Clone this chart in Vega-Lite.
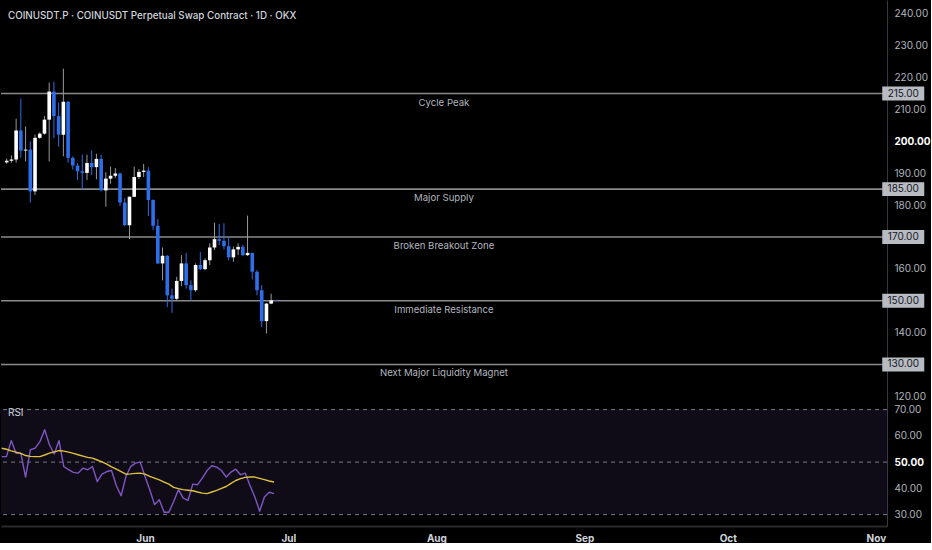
{
  "$schema": "https://vega.github.io/schema/vega-lite/v6.json",
  "background": "#000000",
  "padding": 0,
  "spacing": 0,
  "bounds": "flush",
  "datasets": {
    "bars": [
      {"d": "2025-05-02", "o": 193.4, "h": 194.6, "l": 193.0, "c": 193.9, "rsi": 52.1, "ma": 55.3},
      {"d": "2025-05-03", "o": 193.9, "h": 195.6, "l": 193.3, "c": 194.3, "rsi": 52.1, "ma": 54.9},
      {"d": "2025-05-04", "o": 194.3, "h": 207.1, "l": 193.3, "c": 203.4, "rsi": 58.2, "ma": 54.3},
      {"d": "2025-05-05", "o": 203.4, "h": 213.4, "l": 194.9, "c": 197.1, "rsi": 53.4, "ma": 53.8},
      {"d": "2025-05-06", "o": 197.1, "h": 204.7, "l": 193.7, "c": 197.4, "rsi": 53.4, "ma": 53.3},
      {"d": "2025-05-07", "o": 197.4, "h": 200.0, "l": 180.8, "c": 184.3, "rsi": 44.3, "ma": 52.5},
      {"d": "2025-05-08", "o": 184.3, "h": 202.1, "l": 183.2, "c": 201.1, "rsi": 54.7, "ma": 52.2},
      {"d": "2025-05-09", "o": 201.1, "h": 202.8, "l": 200.8, "c": 202.4, "rsi": 55.3, "ma": 52.1},
      {"d": "2025-05-10", "o": 202.4, "h": 207.9, "l": 202.1, "c": 206.8, "rsi": 57.8, "ma": 52.1},
      {"d": "2025-05-11", "o": 206.8, "h": 218.4, "l": 193.7, "c": 215.6, "rsi": 62.3, "ma": 52.7},
      {"d": "2025-05-12", "o": 215.6, "h": 218.7, "l": 201.0, "c": 207.9, "rsi": 56.6, "ma": 53.4},
      {"d": "2025-05-13", "o": 207.9, "h": 212.2, "l": 198.3, "c": 202.1, "rsi": 53.1, "ma": 53.9},
      {"d": "2025-05-14", "o": 202.1, "h": 222.8, "l": 195.3, "c": 212.4, "rsi": 58.2, "ma": 54.4},
      {"d": "2025-05-15", "o": 212.4, "h": 212.6, "l": 193.3, "c": 194.8, "rsi": 48.3, "ma": 54.2},
      {"d": "2025-05-16", "o": 194.8, "h": 195.3, "l": 191.1, "c": 192.4, "rsi": 47.1, "ma": 53.8},
      {"d": "2025-05-17", "o": 192.4, "h": 193.2, "l": 187.9, "c": 190.6, "rsi": 46.1, "ma": 53.3},
      {"d": "2025-05-18", "o": 190.6, "h": 195.8, "l": 184.8, "c": 190.1, "rsi": 45.8, "ma": 52.8},
      {"d": "2025-05-19", "o": 190.1, "h": 195.8, "l": 187.9, "c": 193.2, "rsi": 47.7, "ma": 52.3},
      {"d": "2025-05-20", "o": 193.2, "h": 197.2, "l": 189.5, "c": 191.9, "rsi": 47.1, "ma": 51.8},
      {"d": "2025-05-21", "o": 191.9, "h": 196.1, "l": 188.1, "c": 194.5, "rsi": 48.3, "ma": 51.5},
      {"d": "2025-05-22", "o": 194.5, "h": 195.8, "l": 184.3, "c": 184.6, "rsi": 42.6, "ma": 50.8},
      {"d": "2025-05-23", "o": 184.6, "h": 190.3, "l": 179.5, "c": 188.3, "rsi": 45.4, "ma": 50.1},
      {"d": "2025-05-24", "o": 188.3, "h": 192.1, "l": 186.7, "c": 189.2, "rsi": 46.4, "ma": 49.2},
      {"d": "2025-05-25", "o": 189.2, "h": 191.6, "l": 188.5, "c": 189.9, "rsi": 46.8, "ma": 48.2},
      {"d": "2025-05-26", "o": 189.9, "h": 190.2, "l": 179.7, "c": 180.8, "rsi": 41.0, "ma": 47.3},
      {"d": "2025-05-27", "o": 180.8, "h": 182.2, "l": 173.4, "c": 173.7, "rsi": 37.2, "ma": 46.4},
      {"d": "2025-05-28", "o": 173.7, "h": 182.7, "l": 169.3, "c": 182.6, "rsi": 44.5, "ma": 45.4},
      {"d": "2025-05-29", "o": 182.6, "h": 192.1, "l": 182.5, "c": 188.8, "rsi": 48.3, "ma": 45.5},
      {"d": "2025-05-30", "o": 188.8, "h": 191.3, "l": 188.2, "c": 190.4, "rsi": 49.6, "ma": 45.7},
      {"d": "2025-05-31", "o": 190.4, "h": 192.9, "l": 188.8, "c": 190.8, "rsi": 50.0, "ma": 45.8},
      {"d": "2025-06-01", "o": 190.8, "h": 191.9, "l": 176.6, "c": 181.6, "rsi": 44.5, "ma": 45.4},
      {"d": "2025-06-02", "o": 181.6, "h": 181.8, "l": 172.2, "c": 173.5, "rsi": 39.5, "ma": 44.6},
      {"d": "2025-06-03", "o": 173.5, "h": 175.6, "l": 161.5, "c": 161.7, "rsi": 33.8, "ma": 43.9},
      {"d": "2025-06-04", "o": 161.7, "h": 166.7, "l": 156.4, "c": 164.1, "rsi": 35.7, "ma": 43.2},
      {"d": "2025-06-05", "o": 164.1, "h": 164.3, "l": 148.0, "c": 151.7, "rsi": 30.9, "ma": 42.4},
      {"d": "2025-06-06", "o": 151.7, "h": 153.8, "l": 146.2, "c": 150.6, "rsi": 30.9, "ma": 41.6},
      {"d": "2025-06-07", "o": 150.6, "h": 157.5, "l": 150.1, "c": 156.2, "rsi": 35.0, "ma": 40.4},
      {"d": "2025-06-08", "o": 156.2, "h": 164.3, "l": 154.6, "c": 161.7, "rsi": 39.5, "ma": 39.9},
      {"d": "2025-06-09", "o": 161.7, "h": 165.0, "l": 153.8, "c": 154.9, "rsi": 36.3, "ma": 39.5},
      {"d": "2025-06-10", "o": 154.9, "h": 156.4, "l": 150.1, "c": 153.3, "rsi": 35.4, "ma": 39.3},
      {"d": "2025-06-11", "o": 153.3, "h": 161.7, "l": 152.8, "c": 161.2, "rsi": 41.6, "ma": 39.1},
      {"d": "2025-06-12", "o": 161.2, "h": 165.3, "l": 159.6, "c": 159.9, "rsi": 41.4, "ma": 38.6},
      {"d": "2025-06-13", "o": 159.9, "h": 163.3, "l": 159.6, "c": 162.7, "rsi": 43.9, "ma": 38.2},
      {"d": "2025-06-14", "o": 162.7, "h": 168.0, "l": 161.2, "c": 166.7, "rsi": 46.8, "ma": 38.0},
      {"d": "2025-06-15", "o": 166.7, "h": 174.5, "l": 165.9, "c": 169.3, "rsi": 48.6, "ma": 38.6},
      {"d": "2025-06-16", "o": 169.3, "h": 174.1, "l": 167.5, "c": 168.8, "rsi": 48.1, "ma": 39.2},
      {"d": "2025-06-17", "o": 168.8, "h": 174.3, "l": 166.1, "c": 167.1, "rsi": 46.8, "ma": 40.0},
      {"d": "2025-06-18", "o": 167.1, "h": 169.9, "l": 162.7, "c": 163.6, "rsi": 44.3, "ma": 40.7},
      {"d": "2025-06-19", "o": 163.6, "h": 167.0, "l": 162.2, "c": 166.1, "rsi": 46.2, "ma": 41.9},
      {"d": "2025-06-20", "o": 166.1, "h": 168.0, "l": 164.3, "c": 166.9, "rsi": 47.3, "ma": 43.0},
      {"d": "2025-06-21", "o": 166.9, "h": 167.5, "l": 164.0, "c": 164.3, "rsi": 45.2, "ma": 43.7},
      {"d": "2025-06-22", "o": 164.3, "h": 176.7, "l": 164.0, "c": 165.0, "rsi": 45.8, "ma": 44.2},
      {"d": "2025-06-23", "o": 165.0, "h": 165.0, "l": 156.7, "c": 159.1, "rsi": 41.0, "ma": 44.3},
      {"d": "2025-06-24", "o": 159.1, "h": 159.6, "l": 151.7, "c": 153.3, "rsi": 36.7, "ma": 44.3},
      {"d": "2025-06-25", "o": 153.3, "h": 154.9, "l": 141.7, "c": 143.6, "rsi": 31.3, "ma": 43.8},
      {"d": "2025-06-26", "o": 143.6, "h": 149.3, "l": 139.7, "c": 149.1, "rsi": 36.7, "ma": 43.3},
      {"d": "2025-06-27", "o": 149.1, "h": 152.2, "l": 148.9, "c": 150.1, "rsi": 38.5, "ma": 42.8},
      {"d": "2025-06-28", "o": 150.1, "h": 150.1, "l": 149.9, "c": 149.9, "rsi": 38.0, "ma": 42.4}
    ],
    "levels": [
      {"level": 215, "label": "Cycle Peak"},
      {"level": 185, "label": "Major Supply"},
      {"level": 170, "label": "Broken Breakout Zone"},
      {"level": 150, "label": "Immediate Resistance"},
      {"level": 130, "label": "Next Major Liquidity Magnet"}
    ],
    "bands": [
      {"band": 70},
      {"band": 50},
      {"band": 30}
    ]
  },
  "vconcat": [
    {
      "width": 886,
      "height": 400,
      "title": {
        "text": "COINUSDT.P · COINUSDT Perpetual Swap Contract · 1D · OKX",
        "anchor": "start",
        "frame": "group",
        "orient": "top",
        "offset": -25.5,
        "baseline": "middle",
        "dx": 7,
        "fontSize": 9.8,
        "fontWeight": 500,
        "color": "#d1d4dc"
      },
      "layer": [
        {
          "data": {"name": "levels"},
          "mark": {"type": "rule", "color": "#8a8a8a", "strokeWidth": 1.6},
          "encoding": {
            "y": {
              "field": "level",
              "type": "quantitative",
              "scale": {"domain": [118.86, 244.33], "nice": false, "zero": false},
              "axis": {
                "orient": "right",
                "title": null,
                "values": [240, 230, 220, 210, 200, 190, 180, 160, 140, 120],
                "format": ".2f",
                "grid": false,
                "ticks": false,
                "labelOverlap": false,
                "labelPadding": 7,
                "labelFontSize": 10,
                "labelColor": {"condition": {"test": "datum.value == 200", "value": "#ffffff"}, "value": "#b2b5be"},
                "labelFontWeight": {"condition": {"test": "datum.value == 200", "value": "bold"}, "value": "normal"},
                "domainColor": "#363a45",
                "domainWidth": 1
              }
            }
          }
        },
        {
          "data": {"name": "bars"},
          "mark": {"type": "rule", "strokeWidth": 1},
          "encoding": {
            "x": {
              "field": "d",
              "type": "temporal",
              "scale": {
                "type": "utc",
                "domain": [
                  {"year": 2025, "month": 5, "date": 1, "hours": 20, "minutes": 30, "utc": true},
                  {"year": 2025, "month": 11, "date": 3, "hours": 8, "utc": true}
                ]
              },
              "axis": null
            },
            "y": {"field": "l", "type": "quantitative"},
            "y2": {"field": "h"},
            "color": {
              "condition": {"test": "datum.c >= datum.o", "value": "#9a9a9a"},
              "value": "#2d6fe9"
            }
          }
        },
        {
          "data": {"name": "bars"},
          "mark": {"type": "bar", "width": 3.6},
          "encoding": {
            "x": {"field": "d", "type": "temporal"},
            "y": {"field": "o", "type": "quantitative"},
            "y2": {"field": "c"},
            "color": {
              "condition": {"test": "datum.c >= datum.o", "value": "#ffffff"},
              "value": "#2d6fe9"
            }
          }
        },
        {
          "data": {"name": "levels"},
          "mark": {"type": "text", "color": "#b2b5be", "fontSize": 9.6, "dy": 9, "align": "center", "baseline": "middle"},
          "encoding": {
            "x": {"datum": {"year": 2025, "month": 8, "date": 2, "hours": 14, "utc": true}, "type": "temporal"},
            "y": {"field": "level", "type": "quantitative"},
            "text": {"field": "label"}
          }
        },
        {
          "data": {"name": "levels"},
          "mark": {
            "type": "point",
            "shape": "M-1,-0.33L1,-0.33L1,0.33L-1,0.33Z",
            "filled": true,
            "size": 1764,
            "color": "#b8bbc2",
            "opacity": 1,
            "strokeWidth": 0
          },
          "encoding": {
            "x": {"datum": {"year": 2025, "month": 11, "date": 7, "hours": 20, "utc": true}, "type": "temporal"},
            "y": {"field": "level", "type": "quantitative"}
          }
        },
        {
          "data": {"name": "levels"},
          "mark": {"type": "text", "color": "#131722", "fontSize": 10, "align": "center", "baseline": "middle"},
          "encoding": {
            "x": {"datum": {"year": 2025, "month": 11, "date": 7, "hours": 20, "utc": true}, "type": "temporal"},
            "y": {"field": "level", "type": "quantitative"},
            "text": {"field": "level", "format": ".2f"}
          }
        }
      ]
    },
    {
      "width": 886,
      "height": 126,
      "title": {
        "text": "RSI",
        "anchor": "start",
        "frame": "group",
        "orient": "top",
        "offset": -22.5,
        "baseline": "middle",
        "dx": 7,
        "fontSize": 10,
        "fontWeight": "normal",
        "color": "#d1d4dc"
      },
      "encoding": {
        "y": {
          "type": "quantitative",
          "scale": {"domain": [25.66, 73.66], "nice": false, "zero": false},
          "axis": {
            "orient": "right",
            "title": null,
            "values": [70, 60, 50, 40, 30],
            "format": ".2f",
            "grid": false,
            "ticks": false,
            "labelOverlap": false,
            "labelPadding": 7,
            "labelFontSize": 10,
            "labelColor": {"condition": {"test": "datum.value == 50", "value": "#ffffff"}, "value": "#b2b5be"},
            "labelFontWeight": {"condition": {"test": "datum.value == 50", "value": "bold"}, "value": "normal"},
            "domainColor": "#363a45",
            "domainWidth": 1
          }
        }
      },
      "layer": [
        {
          "data": {"values": [{"top": 70, "bottom": 30}]},
          "mark": {"type": "rect", "color": "#0f0c18"},
          "encoding": {
            "y": {"field": "top"},
            "y2": {"field": "bottom"}
          }
        },
        {
          "data": {"name": "bands"},
          "mark": {"type": "rule", "color": "#787b86", "strokeWidth": 1, "strokeDash": [4, 4]},
          "encoding": {
            "y": {"field": "band"}
          }
        },
        {
          "data": {"name": "bars"},
          "mark": {"type": "line", "color": "#7e57c2", "strokeWidth": 1.4, "strokeJoin": "round"},
          "encoding": {
            "x": {
              "field": "d",
              "type": "temporal",
              "scale": {
                "type": "utc",
                "domain": [
                  {"year": 2025, "month": 5, "date": 1, "hours": 20, "minutes": 30, "utc": true},
                  {"year": 2025, "month": 11, "date": 3, "hours": 8, "utc": true}
                ]
              },
              "axis": {
                "title": null,
                "values": [
                  {"year": 2025, "month": 6, "date": 1, "utc": true},
                  {"year": 2025, "month": 7, "date": 1, "utc": true},
                  {"year": 2025, "month": 8, "date": 1, "utc": true},
                  {"year": 2025, "month": 9, "date": 1, "utc": true},
                  {"year": 2025, "month": 10, "date": 1, "utc": true},
                  {"year": 2025, "month": 11, "date": 1, "utc": true}
                ],
                "format": "%b",
                "grid": false,
                "ticks": false,
                "labelFlush": false,
                "labelPadding": 7,
                "labelFontSize": 10,
                "labelFontWeight": "bold",
                "labelColor": "#d1d4dc",
                "domainColor": "#2a2a2a",
                "domainWidth": 2
              }
            },
            "y": {"field": "rsi"}
          }
        },
        {
          "data": {"name": "bars"},
          "mark": {"type": "line", "color": "#e0c040", "strokeWidth": 1.4, "strokeJoin": "round"},
          "encoding": {
            "x": {"field": "d", "type": "temporal"},
            "y": {"field": "ma"}
          }
        }
      ]
    }
  ],
  "config": {
    "font": "Inter",
    "view": {"stroke": null}
  }
}
